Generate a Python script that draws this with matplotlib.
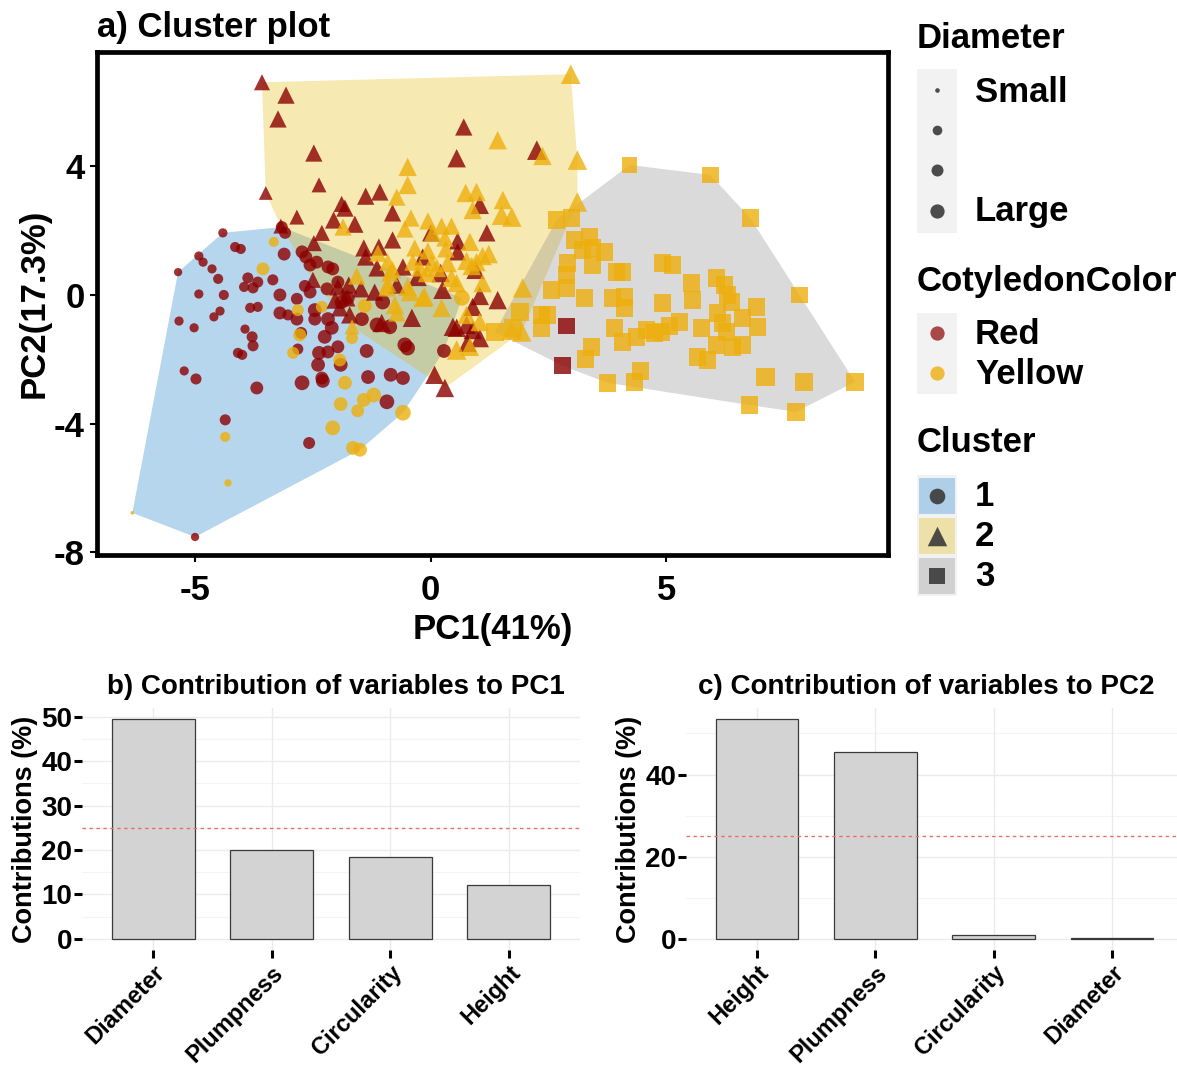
import matplotlib
matplotlib.use('Agg')
import matplotlib.pyplot as plt
from matplotlib.patches import Rectangle
import numpy as np

plt.rcParams['font.family'] = ['Liberation Sans', 'DejaVu Sans']
plt.rcParams['font.weight'] = 'bold'
plt.rcParams['axes.unicode_minus'] = False

# ---------------- data: (PC1, PC2, Diameter score) ----------------
c1_red = [
    (-4.41, 1.93, 2.0), (-3.16, 2.11, 2.6), (-3.09, 1.93, 2.6), (-4.15, 1.49, 2.2),
    (-4.03, 1.43, 2.2), (-4.92, 1.21, 2.0), (-4.83, 1.02, 2.0), (-4.64, 0.81, 2.0),
    (-5.36, 0.71, 1.8), (-4.51, 0.50, 2.2), (-3.88, 0.53, 2.4), (-3.67, 0.40, 2.4),
    (-3.77, 0.22, 2.4), (-3.96, 0.25, 2.2), (-3.35, 0.47, 2.4), (-3.11, 1.27, 2.8),
    (-2.73, 1.34, 2.8), (-2.65, 1.18, 2.8), (-2.56, 0.93, 2.8), (-2.42, 1.02, 2.8),
    (-2.18, 0.87, 2.8), (-2.08, 0.81, 2.8), (-1.97, 0.40, 2.8), (-2.20, 0.19, 2.8),
    (-2.67, 0.28, 2.6), (-3.20, 0.00, 2.8), (-2.84, -0.12, 2.6), (-2.56, 0.09, 2.8),
    (-4.92, 0.03, 2.0), (-4.39, 0.00, 2.2), (-3.83, -0.40, 2.2), (-3.67, -0.37, 2.2),
    (-4.47, -0.50, 2.0), (-4.60, -0.68, 2.0), (-3.20, -0.56, 2.8), (-3.03, -0.62, 2.4),
    (-2.84, -0.75, 2.8), (-2.46, -0.47, 3.0), (-2.46, -0.75, 2.8), (-2.18, -0.75, 3.0),
    (-2.10, -1.02, 3.0), (-2.25, -1.30, 3.0), (-1.89, -0.22, 3.0), (-1.76, -0.09, 3.0),
    (-1.46, -0.75, 3.0), (-1.02, -0.22, 3.2), (-1.14, -0.93, 3.2), (-0.87, -0.99, 3.2),
    (-0.55, -1.55, 3.2), (-0.49, -1.65, 3.2), (0.28, -1.74, 3.0), (-5.34, -0.81, 2.0),
    (-5.02, -1.02, 2.0), (-3.94, -1.06, 2.0), (-3.79, -1.30, 2.4), (-3.77, -1.58, 2.4),
    (-4.09, -1.80, 2.2), (-4.00, -1.86, 2.2), (-2.75, -1.18, 2.6), (-2.82, -1.68, 2.4),
    (-2.37, -1.80, 3.0), (-2.18, -1.77, 2.8), (-1.97, -1.61, 2.8), (-1.91, -2.17, 3.0),
    (-2.39, -2.17, 3.0), (-1.36, -1.74, 3.0), (-5.23, -2.36, 2.0), (-4.98, -2.61, 2.4),
    (-3.69, -2.89, 2.8), (-2.73, -2.73, 3.2), (-2.29, -2.67, 3.0), (-1.33, -2.55, 3.0),
    (-0.85, -2.48, 3.0), (-0.59, -2.58, 3.0), (-0.93, -3.32, 3.2), (-4.36, -3.88, 2.4),
    (-2.58, -4.60, 2.6), (-5.00, -7.52, 1.8), (-2.31, -2.58, 2.8),
]
c1_yellow = [
    (-3.33, 1.65, 2.2), (-3.56, 0.81, 2.8), (-2.82, -0.47, 2.6), (-2.78, -1.24, 2.8),
    (-2.92, -1.80, 2.6), (-2.31, -0.37, 2.6), (-1.67, -1.34, 2.6), (-1.93, -2.02, 2.8),
    (-1.40, -0.34, 3.0), (0.66, -0.09, 3.4), (-1.82, -2.73, 3.0), (-1.91, -3.39, 3.0),
    (-1.42, -3.26, 3.0), (-1.21, -3.11, 3.2), (-1.55, -3.60, 2.8), (-2.08, -4.13, 3.2),
    (-0.59, -3.66, 3.4), (-1.65, -4.75, 3.0), (-1.50, -4.81, 3.0), (-4.36, -4.41, 2.2),
    (-4.30, -5.84, 1.6), (-6.33, -6.77, 0.8),
]
c2_red = [
    (-3.58, 6.61, 2.8), (-3.07, 6.21, 3.0), (-3.24, 5.47, 3.0), (-2.48, 4.41, 3.0),
    (-2.37, 3.42, 2.6), (-3.50, 3.17, 2.4), (-2.84, 2.42, 2.6), (0.70, 5.22, 3.0),
    (0.55, 4.25, 3.2), (-1.38, 3.07, 3.0), (-1.08, 3.20, 3.0), (-1.89, 2.83, 2.8),
    (-1.82, 2.70, 3.0), (-2.06, 2.33, 3.0), (-1.61, 2.20, 3.0), (-2.31, 1.93, 2.8),
    (-2.48, 1.61, 2.8), (-0.81, 2.55, 3.0), (1.04, 2.80, 3.2), (0.00, 1.93, 3.0),
    (1.19, 1.93, 3.0), (-0.81, 1.71, 3.0), (-1.42, 1.46, 3.0), (-1.10, 1.49, 3.0),
    (-1.38, 1.18, 3.0), (0.57, 1.68, 3.0), (-1.14, 0.84, 3.0), (-0.59, 0.87, 3.0),
    (-0.28, 0.56, 3.2), (0.21, 0.68, 3.2), (0.25, 0.16, 3.2), (1.04, -0.03, 3.2),
    (-1.74, 0.31, 3.0), (-1.48, 0.19, 3.0), (-1.19, 0.09, 3.0), (-0.72, 0.31, 3.0),
    (-2.50, 0.47, 2.8), (0.57, 1.34, 3.0), (0.95, 0.78, 3.2), (2.25, 4.50, 3.4),
    (-0.17, 1.18, 3.0), (-1.97, 0.25, 3.0), (-2.03, -0.16, 3.0), (-1.78, -0.09, 3.0),
    (-1.93, -0.40, 3.0), (-1.72, -0.62, 3.0), (-1.04, -0.87, 3.2), (-0.40, -0.71, 3.2),
    (0.47, -0.99, 3.2), (0.76, -0.93, 3.2), (0.89, -1.09, 3.2), (0.78, -1.49, 3.2),
    (1.04, -1.34, 3.2), (0.08, -2.48, 3.2), (0.30, -2.89, 3.2), (1.42, -0.16, 3.2),
    (0.89, -0.37, 3.2), (0.55, -1.02, 3.2), (-3.18, 2.14, 2.6),
]
c2_yellow = [
    (2.97, 6.86, 3.4), (1.42, 4.81, 3.2), (3.11, 4.19, 3.4), (2.37, 4.32, 3.2),
    (-0.49, 3.98, 3.2), (-0.49, 3.42, 3.2), (-0.72, 3.04, 3.0), (0.74, 3.17, 3.2),
    (0.97, 3.20, 3.2), (0.89, 2.64, 3.2), (1.53, 2.95, 3.2), (1.50, 2.48, 3.4),
    (1.72, 2.42, 3.4), (3.11, 2.89, 3.4), (-1.86, 2.11, 3.0), (-0.55, 2.05, 3.0),
    (-0.42, 2.39, 3.0), (-0.06, 2.30, 3.0), (0.23, 2.14, 3.0), (0.44, 2.14, 3.0),
    (0.30, 1.77, 3.0), (-0.34, 1.46, 3.0), (-0.06, 1.37, 3.0), (0.32, 1.43, 3.0),
    (0.83, 1.65, 3.2), (1.23, 1.27, 3.2), (-0.38, 1.02, 3.0), (0.02, 0.99, 3.0),
    (0.36, 0.99, 3.2), (0.87, 0.90, 3.2), (-0.91, 1.02, 3.0), (-1.12, 1.30, 3.0),
    (-0.81, 0.78, 3.0), (-0.49, 0.25, 3.2), (-0.17, -0.09, 3.2), (0.55, 0.37, 3.2),
    (-1.57, 0.59, 3.0), (-0.91, 0.34, 3.0), (1.10, 1.21, 3.2), (-0.23, 0.84, 3.0),
    (0.13, 0.84, 3.2), (0.76, 1.06, 3.2), (-0.87, 0.68, 3.0), (-0.08, 0.68, 3.2),
    (0.44, 0.53, 3.2), (1.10, 0.37, 3.2), (-0.93, 0.22, 3.0), (-0.44, 0.09, 3.2),
    (0.23, -0.40, 3.2), (-0.76, -0.31, 3.2), (-0.72, -0.56, 3.0), (-1.67, -0.99, 2.6),
    (0.55, -1.71, 3.4), (0.83, -1.61, 3.2), (1.04, -0.84, 3.2), (1.95, 0.22, 3.4),
    (1.93, -1.15, 3.4), (1.72, -1.09, 3.4), (-0.13, -0.06, 3.2), (0.76, -0.62, 3.2),
    (0.04, 1.93, 3.0), (0.97, 1.02, 3.2),
]
c3_yellow = [
    (6.78, 2.39, 3.8), (2.67, 2.33, 3.8), (2.99, 2.39, 3.8), (3.05, 1.71, 3.8),
    (3.37, 1.80, 3.8), (3.22, 1.40, 3.8), (3.43, 1.46, 3.8), (3.69, 1.34, 3.8),
    (3.43, 0.93, 3.8), (2.90, 0.99, 3.8), (2.88, 0.62, 3.8), (2.88, 0.22, 3.8),
    (2.56, 0.16, 3.8), (3.26, -0.09, 3.8), (3.94, 0.71, 3.8), (4.07, 0.71, 3.8),
    (3.86, -0.09, 3.8), (4.11, -0.06, 3.8), (4.11, -0.40, 3.8), (4.92, 0.99, 3.8),
    (5.13, 0.93, 3.8), (4.92, -0.25, 3.8), (3.90, -1.02, 3.8), (4.07, -1.46, 3.8),
    (4.36, -1.30, 3.8), (4.58, -1.09, 3.8), (4.75, -1.18, 3.8), (5.06, -0.96, 3.8),
    (3.41, -1.61, 3.8), (3.28, -1.99, 3.8), (3.75, -2.73, 3.8), (4.32, -2.70, 3.8),
    (4.45, -2.36, 3.8), (1.36, -1.15, 3.8), (1.74, -1.02, 3.8), (1.89, -0.53, 3.8),
    (2.35, -0.62, 3.8), (2.48, -0.62, 3.8), (2.35, -1.02, 3.8), (4.22, 4.04, 3.4),
    (5.93, 3.73, 3.6), (7.82, 0.00, 3.6), (9.00, -2.70, 4.0), (7.92, -2.70, 3.8),
    (7.10, -2.55, 4.0), (6.76, -3.42, 3.8), (7.75, -3.63, 3.8), (5.53, 0.37, 3.8),
    (6.06, 0.53, 3.8), (6.23, 0.31, 3.8), (6.29, 0.00, 3.8), (6.38, -0.22, 3.8),
    (6.91, -0.37, 3.8), (5.55, -0.16, 3.8), (5.28, -0.84, 3.8), (5.74, -1.02, 3.8),
    (6.08, -0.56, 3.8), (6.19, -0.87, 3.8), (6.27, -1.15, 3.8), (6.61, -0.71, 3.8),
    (6.93, -0.99, 3.8), (6.06, -1.55, 3.8), (6.40, -1.61, 3.8), (6.61, -1.55, 3.8),
    (5.66, -1.93, 3.8), (5.87, -2.02, 3.8), (4.89, -1.15, 3.8),
]
c3_red = [(2.88, -0.96, 3.6), (2.80, -2.20, 3.6)]

pc1_vars = ['Diameter', 'Plumpness', 'Circularity', 'Height']
pc1_contrib = [49.5, 20.0, 18.4, 12.2]
pc2_vars = ['Height', 'Plumpness', 'Circularity', 'Diameter']
pc2_contrib = [53.5, 45.5, 1.0, 0.1]
ref_line = 25.0

# ---------------- styling ----------------
RED = '#8B0000'
YEL = '#EDAF0C'
HULL = {1: ('#5DA5DA', 0.45), 2: ('#E7B800', 0.30), 3: ('#868686', 0.30)}
MARK = {1: ('o', 1.0), 2: ('^', 1.25), 3: ('s', 1.0)}

W, H = 1177, 1070
fig = plt.figure(figsize=(W / 100, H / 100), dpi=100)


def ax_px(l, t, r, b):
    return fig.add_axes([l / W, 1 - b / H, (r - l) / W, (b - t) / H])


def convex_hull(points):
    pts = sorted(set(points))
    def cross(o, a, b):
        return (a[0] - o[0]) * (b[1] - o[1]) - (a[1] - o[1]) * (b[0] - o[0])
    lower, upper = [], []
    for p in pts:
        while len(lower) >= 2 and cross(lower[-2], lower[-1], p) <= 0:
            lower.pop()
        lower.append(p)
    for p in reversed(pts):
        while len(upper) >= 2 and cross(upper[-2], upper[-1], p) <= 0:
            upper.pop()
        upper.append(p)
    return lower[:-1] + upper[:-1]


def msize(d, scale):
    px = 4.6 * d * scale
    return (px * 0.72) ** 2


# ---------------- panel a ----------------
ax = ax_px(97, 52, 888, 555)
clusters = {1: [c1_red, c1_yellow], 2: [c2_red, c2_yellow], 3: [c3_red, c3_yellow]}
for k in (1, 2, 3):
    allpts = [(p[0], p[1]) for grp in clusters[k] for p in grp]
    hull = convex_hull(allpts)
    col, a = HULL[k]
    ax.fill([h[0] for h in hull], [h[1] for h in hull], color=col, alpha=a, lw=0, zorder=1)

for k in (1, 2, 3):
    m, sc = MARK[k]
    for grp, col in zip(clusters[k], (RED, YEL)):
        xs = [p[0] for p in grp]
        ys = [p[1] for p in grp]
        ss = [msize(p[2], sc) for p in grp]
        ax.scatter(xs, ys, s=ss, marker=m, c=col, alpha=0.8, linewidths=0, zorder=3)

ax.set_xlim(-7.08, 9.70)
ax.set_ylim(-8.08, 7.55)
ax.set_xticks([-5, 0, 5])
ax.set_yticks([-8, -4, 0, 4])
for s in ax.spines.values():
    s.set_linewidth(3.4)
ax.tick_params(length=5, width=1.5, labelsize=25, colors='black')
ax.tick_params(axis='x', pad=9)
ax.tick_params(axis='y', pad=4)
for lab in ax.get_xticklabels() + ax.get_yticklabels():
    lab.set_fontweight('bold')
ax.set_xlabel('PC1(41%)', fontsize=25, fontweight='bold', labelpad=4)
ax.set_ylabel('PC2(17.3%)', fontsize=25, fontweight='bold', labelpad=2)
fig.text(97 / W, 1 - 28 / H, 'a) Cluster plot', fontsize=25, fontweight='bold', va='center', ha='left')

# ---------------- bar panels ----------------
def bar_panel(axb, names, vals, ylim, major, minor, title, title_x):
    xs = np.arange(1, len(names) + 1)
    axb.set_axisbelow(True)
    for y in minor:
        axb.axhline(y, color='#F4F4F4', lw=0.8, zorder=0)
    for y in major:
        axb.axhline(y, color='#EBEBEB', lw=1.0, zorder=0)
    for x in xs:
        axb.axvline(x, color='#EBEBEB', lw=1.0, zorder=0)
    axb.bar(xs, vals, width=0.7, color='#D3D3D3', edgecolor='#3A3A3A', linewidth=0.9, zorder=2)
    axb.axhline(ref_line, color='#E8706A', lw=1.0, linestyle=(0, (2.5, 2.5)), zorder=3)
    axb.set_ylim(*ylim)
    axb.set_yticks(major)
    axb.set_xticks(xs)
    axb.set_xticklabels(names, rotation=45, ha='right', va='top', rotation_mode='anchor')
    for s in axb.spines.values():
        s.set_visible(False)
    axb.tick_params(axis='both', length=6, width=2.2, colors='black', labelsize=20)
    axb.tick_params(axis='x', labelsize=17, pad=2)
    axb.tick_params(axis='y', pad=1)
    for lab in axb.get_xticklabels() + axb.get_yticklabels():
        lab.set_fontweight('bold')
    axb.set_ylabel('Contributions (%)', fontsize=19.5, fontweight='bold', labelpad=2)
    fig.text(title_x / W, 1 - 687 / H, title, fontsize=20, fontweight='bold', ha='center', va='center')


axb = ax_px(82, 708, 580, 950)
axb.set_xlim(0.4, 4.6)
bar_panel(axb, pc1_vars, pc1_contrib, (-2.5, 52.0), [0, 10, 20, 30, 40, 50], [5, 15, 25, 35, 45],
          'b) Contribution of variables to PC1', 336)

axc = ax_px(686, 708, 1177, 950)
axc.set_xlim(0.4, 4.55)
bar_panel(axc, pc2_vars, pc2_contrib, (-2.7, 56.2), [0, 20, 40], [10, 30, 50],
          'c) Contribution of variables to PC2', 926)

# ---------------- legend (drawn in pixel space) ----------------
lg = fig.add_axes([0, 0, 1, 1], zorder=10)
lg.set_xlim(0, W)
lg.set_ylim(H, 0)
lg.axis('off')
FS = 25
KEYC = '#3A3A3A'

lg.text(917, 38, 'Diameter', fontsize=FS, fontweight='bold', va='center', ha='left')
lg.add_patch(Rectangle((917, 69), 40, 164, color='#F2F2F2', lw=0))
for yy, d in zip((90, 130, 170, 211), (1.0, 2.1, 2.6, 3.1)):
    lg.scatter([937], [yy], s=msize(d, 1.0), c=KEYC, alpha=0.9, linewidths=0)
lg.text(975, 92, 'Small', fontsize=FS, fontweight='bold', va='center')
lg.text(975, 212, 'Large', fontsize=FS, fontweight='bold', va='center')

lg.text(917, 281, 'CotyledonColor', fontsize=FS, fontweight='bold', va='center')
lg.add_patch(Rectangle((917, 313), 40, 81, color='#F2F2F2', lw=0))
lg.scatter([937], [333], s=msize(3.1, 1.0), c=RED, alpha=0.7, linewidths=0)
lg.scatter([937], [373], s=msize(3.1, 1.0), c=YEL, alpha=0.8, linewidths=0)
lg.text(975, 334, 'Red', fontsize=FS, fontweight='bold', va='center')
lg.text(975, 375, 'Yellow', fontsize=FS, fontweight='bold', va='center')

lg.text(917, 443, 'Cluster', fontsize=FS, fontweight='bold', va='center')
lg.add_patch(Rectangle((917, 475), 40, 121, color='#F2F2F2', lw=0))
for i, (yy, lab) in enumerate(zip((496, 536, 576), ('1', '2', '3'))):
    k = i + 1
    col, a = HULL[k]
    lg.add_patch(Rectangle((919, yy - 18), 36, 36, color=col, alpha=a, lw=0))
    m, sc = MARK[k]
    lg.scatter([937], [yy], s=msize(3.4, sc), marker=m, c=KEYC, alpha=0.9, linewidths=0)
    lg.text(975, yy + 1, lab, fontsize=FS, fontweight='bold', va='center')

fig.savefig('out.png', dpi=100)
